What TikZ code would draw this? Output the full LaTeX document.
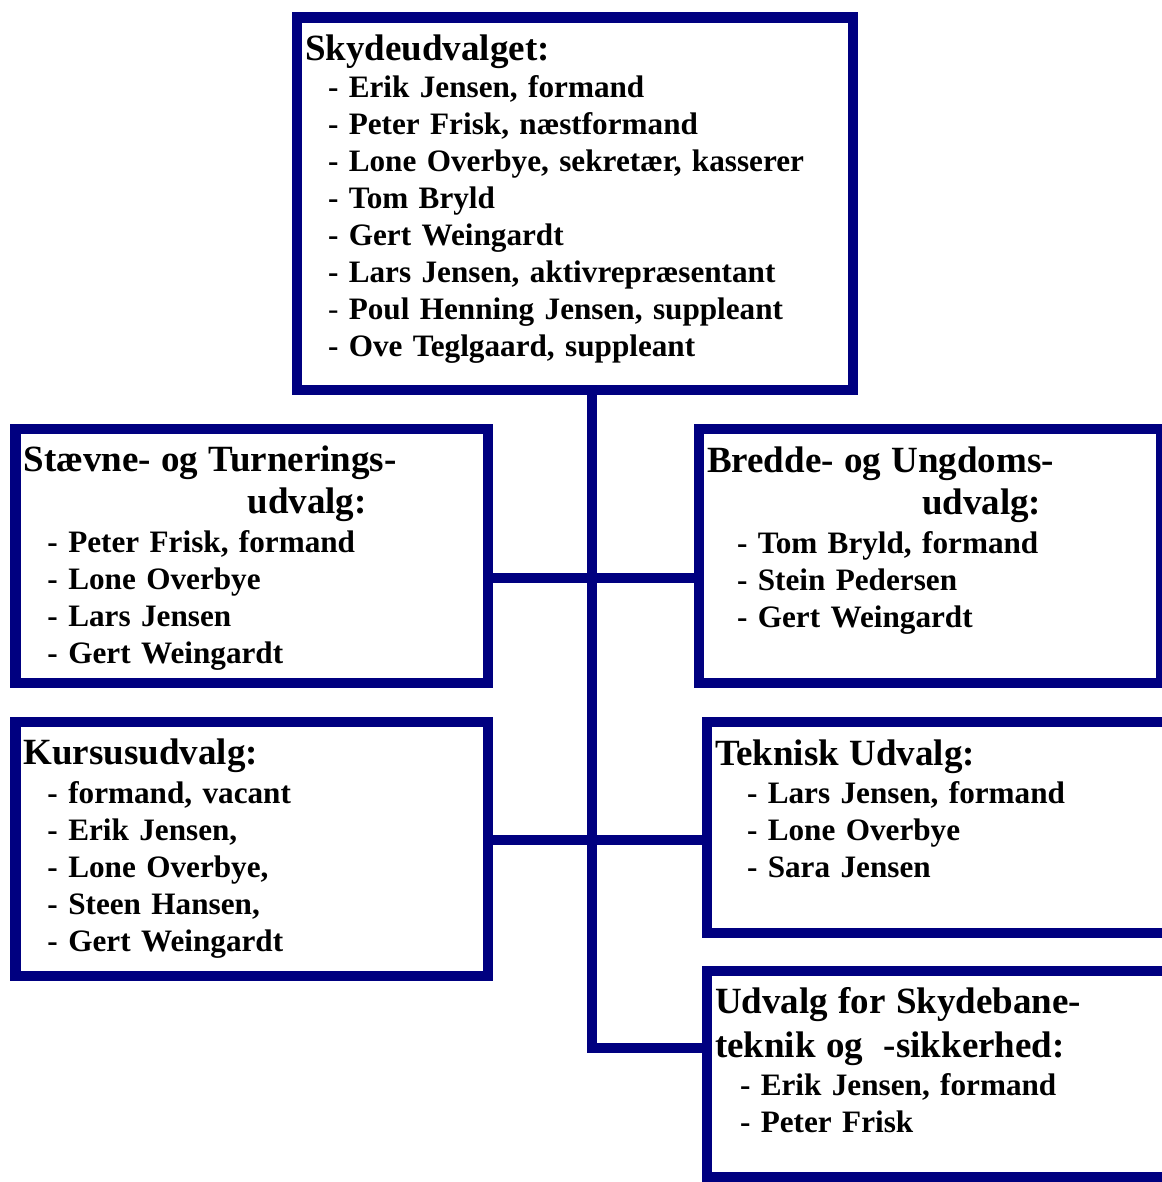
\documentclass[tikz,border=0pt]{standalone}
\usepackage{fontspec}
\setmainfont{Liberation Serif}
\definecolor{navyblue}{RGB}{0,0,128}
\newcommand{\udvhead}[1]{{\fontsize{18.5}{21}\selectfont #1}}

\begin{document}
\begin{tikzpicture}[x=0.5pt, y=-0.5pt,
  udvbox/.style={draw=navyblue, line width=5.25pt, anchor=north west, outer sep=0pt,
    inner xsep=4pt, inner ysep=0pt, align=left,
    font=\fontsize{15.6}{18.45}\selectfont\bfseries},
  link/.style={draw=navyblue, line width=5.25pt}]
  \useasboundingbox (0,0) rectangle (1161,1182);

  \node[udvbox, text width=270pt, text height=21.75pt, text depth=164.5pt] (skyd) at (297,17.5)
  {\udvhead{Skydeudvalget:}\\
   \hspace*{11.5pt}- Erik Jensen, formand\\
   \hspace*{11.5pt}- Peter Frisk, næstformand\\
   \hspace*{11.5pt}- Lone Overbye, sekretær, kasserer\\
   \hspace*{11.5pt}- Tom Bryld\\
   \hspace*{11.5pt}- Gert Weingardt\\
   \hspace*{11.5pt}- Lars Jensen, aktivrepræsentant\\
   \hspace*{11.5pt}\textmd{-} Poul Henning Jensen, suppleant\\
   \hspace*{11.5pt}- Ove Teglgaard, suppleant};

  \node[udvbox, text width=228.25pt, text height=21.25pt, text depth=105.75pt] (staevne) at (15.5,429)
  {\udvhead{Stævne- og Turnerings-}\\[2.55pt]
   \hspace*{112pt}\udvhead{udvalg:}\\[1.25pt]
   \hspace*{12pt}- Peter Frisk, formand\\
   \hspace*{12pt}- Lone Overbye\\
   \hspace*{12pt}- Lars Jensen\\
   \hspace*{12pt}- Gert Weingardt};

  \node[udvbox, text width=223.25pt, text height=21.5pt, text depth=105.5pt] (bredde) at (699,429)
  {\udvhead{Bredde- og Ungdoms-}\\[2.55pt]
   \hspace*{107.5pt}\udvhead{udvalg:}\\[1.25pt]
   \hspace*{15pt}- Tom Bryld, formand\\
   \hspace*{15pt}- Stein Pedersen\\
   \hspace*{15pt}- Gert Weingardt};

  \node[udvbox, text width=228.25pt, text height=21pt, text depth=106pt] (kursus) at (15.5,722)
  {\udvhead{Kursusudvalg:}\\[1.5pt]
   \hspace*{12pt}- formand, vacant\\
   \hspace*{12pt}- Erik Jensen,\\
   \hspace*{12pt}- Lone Overbye,\\
   \hspace*{12pt}- Steen Hansen,\\
   \hspace*{12pt}- Gert Weingardt};

  \node[udvbox, text width=226pt, text height=21.5pt, text depth=84pt] (teknisk) at (707,722)
  {\udvhead{Teknisk Udvalg:}\\[1pt]
   \hspace*{16pt}- Lars Jensen, formand\\
   \hspace*{16pt}- Lone Overbye\\
   \hspace*{16pt}- Sara Jensen};

  \node[udvbox, text width=226pt, text height=21.25pt, text depth=81.75pt] (skyfor) at (707,971)
  {\udvhead{Udvalg for Skydebane-}\\[3.55pt]
   \udvhead{teknik og\ \ -sikkerhed:}\\[0.75pt]
   \hspace*{12.5pt}- Erik Jensen, formand\\
   \hspace*{12.5pt}- Peter Frisk};

  \draw[link] ([xshift=8.5pt]skyd.south) |- ([yshift=13pt]skyfor.west);
  \draw[link] ([yshift=-11pt]staevne.east) -- ([yshift=-11pt]staevne.east -| bredde.west);
  \draw[link] ([yshift=4.5pt]kursus.east) -- ([yshift=4.5pt]kursus.east -| teknisk.west);
\end{tikzpicture}
\end{document}
